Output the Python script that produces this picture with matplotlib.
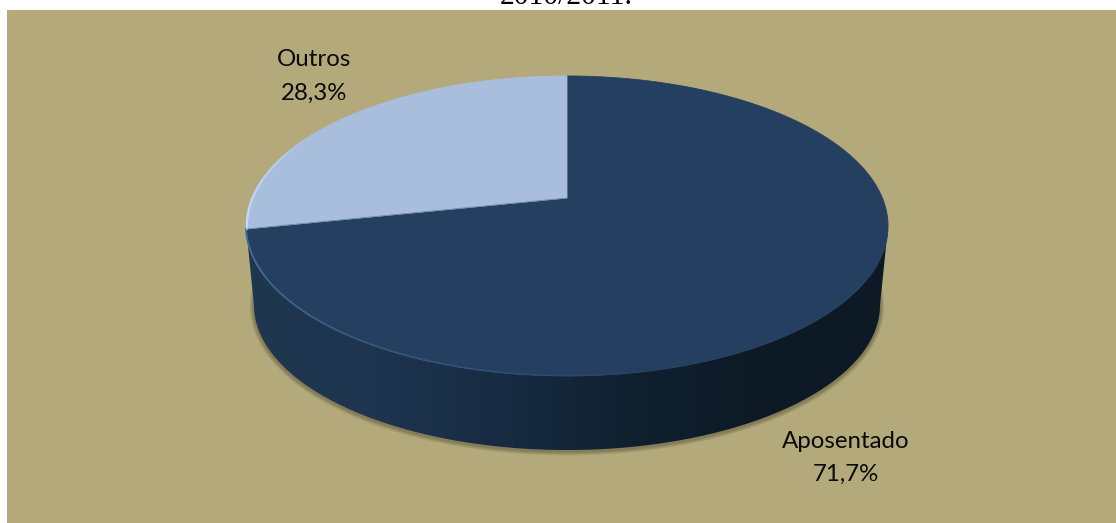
#!/usr/bin/env python3
"""Tilted pie with a solid rim: occupation split, 2010/2011."""

import numpy as np
import matplotlib

matplotlib.use("Agg")
import matplotlib.pyplot as plt
from matplotlib.colors import LinearSegmentedColormap
from matplotlib.patches import Polygon, Rectangle

W, H = 1116, 523

CATEGORIES = ["Aposentado", "Outros"]
SHARES = [71.7, 28.3]
SHARE_LABELS = ["71,7%", "28,3%"]
CAPTION = "2010/2011."

PANEL = "#b3a97b"
DARK = "#243f60"
LIGHT = "#a9bedd"

# disc seen in perspective
CX, VERTEX_Y = 567, 198
TILT_K, TILT_A, TILT_B = 0.1867, 144.8, 315.4
WIDEST = np.degrees(np.arccos(-TILT_K))


def project(theta):
    """Clockwise-from-top angle (degrees) on the disc to canvas x, y."""
    t = np.radians(theta)
    u, v = np.sin(t), np.cos(t)
    w = 1 + TILT_K * v
    return CX + TILT_B * u / w, VERTEX_Y - TILT_A * v / w


def lower_rim(theta):
    """Same angle on the underside of the pie."""
    x, y = project(theta)
    return CX + (x - CX) * 313 / 321, 305 + (y - 226) * 145 / 150


def wedge_xy(start, stop):
    x, y = project(np.linspace(start, stop, 300))
    return np.column_stack([np.r_[CX, x], np.r_[VERTEX_Y, y]])


fig = plt.figure(figsize=(W / 100, H / 100), dpi=100, facecolor="white")
ax = fig.add_axes([0, 0, 1, 1])
ax.set_xlim(0, W)
ax.set_ylim(H, 0)
ax.axis("off")

ax.add_patch(Rectangle((7, 10), W - 7, H - 10, facecolor=PANEL, edgecolor="none"))
ax.text(566, 4.5, CAPTION, ha="center", va="baseline", fontsize=21.3, family="Liberation Serif", color="black")

# soft shadow under the rim
sweep = np.linspace(WIDEST - 8, 360 - WIDEST + 8, 300)
sx, sy = lower_rim(sweep)
for lw in [6, 4.5, 3, 2]:
    ax.plot(sx, sy + 1.2, color="#3a3520", alpha=0.11, lw=lw, solid_capstyle="round", zorder=2)

# rim: wall between top edge and underside, shaded left to right
front = np.linspace(WIDEST, 360 - WIDEST, 300)
tx, ty = project(front)
bx, by = lower_rim(front)
wall = Polygon(np.column_stack([np.r_[tx, bx[::-1]], np.r_[ty, by[::-1]]]), facecolor="none", edgecolor="none", zorder=3)
ax.add_patch(wall)
rim_cmap = LinearSegmentedColormap.from_list("rim", ["#20374f", "#1e3450", "#172b42", "#10202f", "#0d1a26", "#0d1a26"])
shade = ax.imshow(np.linspace(0, 1, 512)[None, :], cmap=rim_cmap, extent=(246, 888, 460, 220), aspect="auto", zorder=3)
shade.set_clip_path(wall)
ax.set_xlim(0, W)
ax.set_ylim(H, 0)

# top face, wedges run clockwise from 12 o'clock
colors = [DARK, LIGHT]
start = 0.0
for share, color in zip(SHARES, colors):
    stop = start + share * 3.6
    ax.add_patch(Polygon(wedge_xy(start, stop), facecolor=color, edgecolor=color, lw=0.6, zorder=4))
    start = stop

# bevel highlights along the edge of the top face
edge = np.linspace(165, 258, 200)
ex, ey = project(edge)
fade = np.linspace(0, 1, len(edge) - 1)
for i in range(len(edge) - 1):
    ax.plot(ex[i:i + 2], ey[i:i + 2] - 0.5, color="#47709c", lw=1.2, alpha=float(fade[i]) * 0.75, zorder=5)
edge = np.linspace(258.1, 300, 100)
hx, hy = project(edge)
fade = np.linspace(0.8, 0, len(edge) - 1)
for i in range(len(edge) - 1):
    ax.plot(hx[i:i + 2] + 1, hy[i:i + 2], color="#c6daf2", lw=1.4, alpha=float(fade[i]), zorder=5)

x0, y0 = project(SHARES[0] * 3.6)
ax.plot([CX, x0], [VERTEX_Y, y0], color="#6f88a8", lw=0.6, zorder=5)

label_pos = [(846, 441), (314, 60)]
for name, share, (lx, ly) in zip(CATEGORIES, SHARE_LABELS, label_pos):
    ax.text(lx, ly, name, ha="center", va="center", fontsize=17.3, family="Lato", color="#0a0a0a", zorder=6)
    ax.text(lx, ly + 33, share, ha="center", va="center", fontsize=17.3, family="Lato", color="#0a0a0a", zorder=6)

fig.savefig("out.png", dpi=100, facecolor="white")
plt.close(fig)
